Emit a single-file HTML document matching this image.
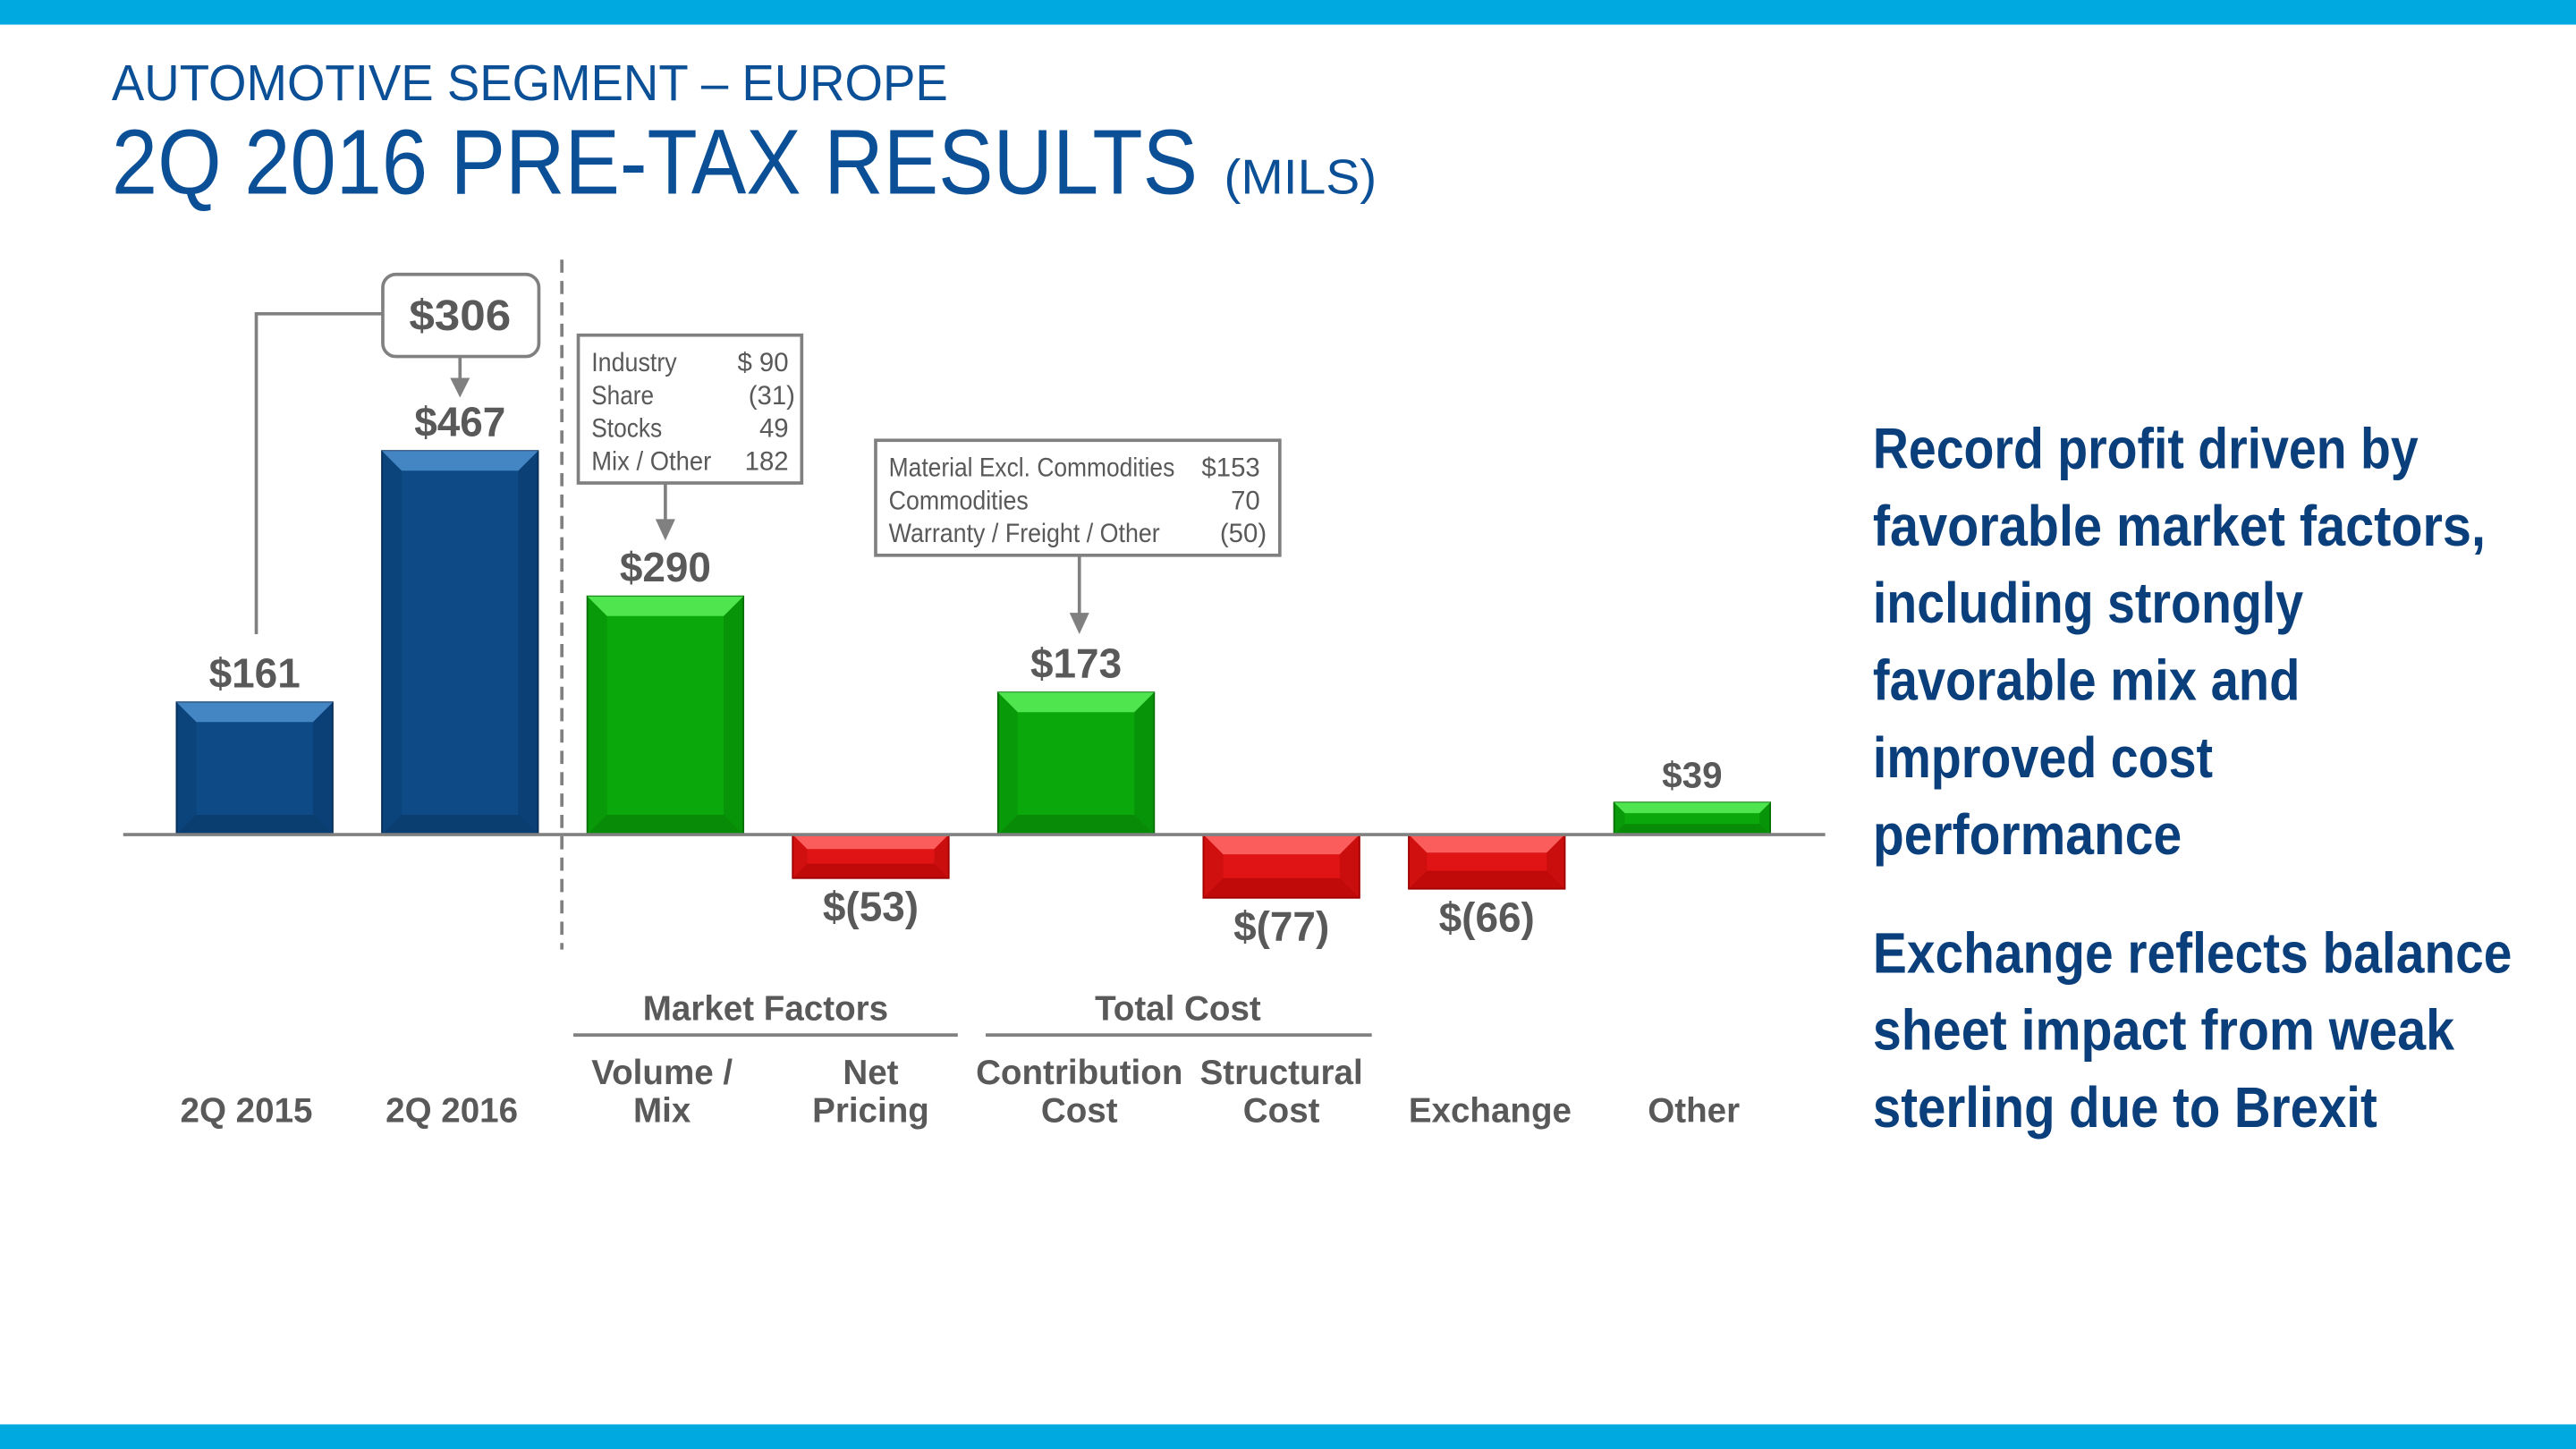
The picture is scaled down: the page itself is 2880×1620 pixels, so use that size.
<!DOCTYPE html>
<html><head><meta charset="utf-8"><style>
html,body{margin:0;padding:0;background:#fff;}
svg{display:block;}
text{font-family:"Liberation Sans Narrow","Liberation Sans",sans-serif;}
</style></head><body>
<svg id="chart" width="2880" height="1620" viewBox="0 0 1568 882" xmlns="http://www.w3.org/2000/svg">
<rect x="0" y="0" width="1568" height="15" fill="#00a9e0"/>
<rect x="0" y="867" width="1568" height="15" fill="#00a9e0"/>
<text x="68" y="61" font-size="31" fill="#0b4f96" textLength="509" lengthAdjust="spacingAndGlyphs">AUTOMOTIVE SEGMENT – EUROPE</text>
<text x="68" y="118" font-size="56" fill="#0b4f96" textLength="661" lengthAdjust="spacingAndGlyphs">2Q 2016 PRE-TAX RESULTS</text>
<text x="745" y="118" font-size="30" fill="#0b4f96" textLength="93" lengthAdjust="spacingAndGlyphs">(MILS)</text>

<line x1="342" y1="158" x2="342" y2="578" stroke="#808080" stroke-width="2" stroke-dasharray="8,5"/>
<g id="bars"></g>
<line x1="75" y1="508" x2="1111" y2="508" stroke="#808080" stroke-width="2"/>

<g>
<polyline points="233,191 156,191 156,386" fill="none" stroke="#808080" stroke-width="2"/>
<rect x="233" y="167" width="95" height="50" rx="8" fill="#fff" stroke="#808080" stroke-width="2"/>
<text x="280" y="201" font-size="26" font-weight="bold" fill="#595959" text-anchor="middle" textLength="62" lengthAdjust="spacingAndGlyphs">$306</text>
<line x1="280" y1="217" x2="280" y2="232" stroke="#808080" stroke-width="2"/>
<polygon points="274,230 286,230 280,242" fill="#808080"/>
</g>

<g font-size="16" fill="#595959">
<rect x="352" y="204" width="136" height="90" fill="#fff" stroke="#808080" stroke-width="2"/>
<text x="360" y="226" textLength="52" lengthAdjust="spacingAndGlyphs">Industry</text><text x="480" y="226" text-anchor="end">$  90</text>
<text x="360" y="246" textLength="38" lengthAdjust="spacingAndGlyphs">Share</text><text x="484" y="246" text-anchor="end">(31)</text>
<text x="360" y="266" textLength="43" lengthAdjust="spacingAndGlyphs">Stocks</text><text x="480" y="266" text-anchor="end">49</text>
<text x="360" y="286" textLength="73" lengthAdjust="spacingAndGlyphs">Mix / Other</text><text x="480" y="286" text-anchor="end">182</text>
<line x1="405" y1="294" x2="405" y2="318" stroke="#808080" stroke-width="2"/>
<polygon points="399,316 411,316 405,329" fill="#808080"/>
</g>

<g font-size="16" fill="#595959">
<rect x="533" y="268" width="246" height="70" fill="#fff" stroke="#808080" stroke-width="2"/>
<text x="541" y="290" textLength="174" lengthAdjust="spacingAndGlyphs">Material Excl. Commodities</text><text x="767" y="290" text-anchor="end">$153</text>
<text x="541" y="310" textLength="85" lengthAdjust="spacingAndGlyphs">Commodities</text><text x="767" y="310" text-anchor="end">70</text>
<text x="541" y="330" textLength="165" lengthAdjust="spacingAndGlyphs">Warranty / Freight / Other</text><text x="771" y="330" text-anchor="end">(50)</text>
<line x1="657" y1="338" x2="657" y2="375" stroke="#808080" stroke-width="2"/>
<polygon points="651,373 663,373 657,386" fill="#808080"/>
</g>

<g font-size="21" font-weight="bold" fill="#595959" text-anchor="middle">
<text x="466" y="621">Market Factors</text>
<line x1="349" y1="630" x2="583" y2="630" stroke="#808080" stroke-width="2"/>
<text x="717" y="621">Total Cost</text>
<line x1="600" y1="630" x2="835" y2="630" stroke="#808080" stroke-width="2"/>
<text x="150" y="683">2Q 2015</text>
<text x="275" y="683">2Q 2016</text>
<text x="403" y="660">Volume /</text>
<text x="403" y="683">Mix</text>
<text x="530" y="660">Net</text>
<text x="530" y="683">Pricing</text>
<text x="657" y="660">Contribution</text>
<text x="657" y="683">Cost</text>
<text x="780" y="660">Structural</text>
<text x="780" y="683">Cost</text>
<text x="907" y="683">Exchange</text>
<text x="1031" y="683">Other</text>
</g>

<g font-size="35" font-weight="bold" fill="#0a3f7c">
<text x="1140" y="285" textLength="332" lengthAdjust="spacingAndGlyphs">Record profit driven by</text>
<text x="1140" y="332" textLength="373" lengthAdjust="spacingAndGlyphs">favorable market factors,</text>
<text x="1140" y="379" textLength="262" lengthAdjust="spacingAndGlyphs">including strongly</text>
<text x="1140" y="426" textLength="260" lengthAdjust="spacingAndGlyphs">favorable mix and</text>
<text x="1140" y="473" textLength="207" lengthAdjust="spacingAndGlyphs">improved cost</text>
<text x="1140" y="520" textLength="188" lengthAdjust="spacingAndGlyphs">performance</text>
<text x="1140" y="592" textLength="389" lengthAdjust="spacingAndGlyphs">Exchange reflects balance</text>
<text x="1140" y="639" textLength="354" lengthAdjust="spacingAndGlyphs">sheet impact from weak</text>
<text x="1140" y="686" textLength="307" lengthAdjust="spacingAndGlyphs">sterling due to Brexit</text>
</g>
</svg>
<script>
const categories = ["2Q 2015","2Q 2016","Volume / Mix","Net Pricing","Contribution Cost","Structural Cost","Exchange","Other"];
const values = [161, 467, 290, -53, 173, -77, -66, 39];
const valueLabels = ["$161","$467","$290","$(53)","$173","$(77)","$(66)","$39"];
const barKinds = ["total","total","delta","delta","delta","delta","delta","delta"];

const NS = "http://www.w3.org/2000/svg";
const y0 = 508, pxPerUnit = 0.5;
function xCenter(i){ return 155 + i * 125; }
function yScale(v){ return y0 - v * pxPerUnit; }
const palette = {
  total: {main:"#0d4a86", light:"#4f8fcf", dark:"#072f5a"},
  up:    {main:"#0aa80a", light:"#5cf05c", dark:"#067006"},
  down:  {main:"#e01414", light:"#ff6a6a", dark:"#a00000"}
};
const g = document.getElementById("bars");
function mk(tag, attrs){ const e = document.createElementNS(NS, tag); for (const k in attrs) e.setAttribute(k, attrs[k]); return e; }
values.forEach((v, i) => {
  const w = 95, cx = xCenter(i), x = cx - w/2;
  const top = Math.min(yScale(v), y0), bot = Math.max(yScale(v), y0), h = bot - top;
  const c = barKinds[i] === "total" ? palette.total : (v >= 0 ? palette.up : palette.down);
  const grp = mk("g", {});
  
  
  grp.appendChild(mk("rect", {x:x, y:top, width:w, height:h, fill:c.main, stroke:c.dark, "stroke-width":1}));
  const b = Math.min(12, h/3);
  grp.appendChild(mk("polygon", {points:`${x},${top} ${x+w},${top} ${x+w-b},${top+b} ${x+b},${top+b}`, fill:c.light, opacity:0.85}));
  grp.appendChild(mk("polygon", {points:`${x},${bot} ${x+w},${bot} ${x+w-b},${bot-b} ${x+b},${bot-b}`, fill:c.dark, opacity:0.5}));
  grp.appendChild(mk("polygon", {points:`${x},${top} ${x+b},${top+b} ${x+b},${bot-b} ${x},${bot}`, fill:c.dark, opacity:0.25}));
  grp.appendChild(mk("polygon", {points:`${x+w},${top} ${x+w-b},${top+b} ${x+w-b},${bot-b} ${x+w},${bot}`, fill:c.dark, opacity:0.35}));
  g.appendChild(grp);
  const t = mk("text", {x:cx, y: v >= 0 ? top - 9 : bot + 26, "text-anchor":"middle", "font-size": (i === 7 ? 22 : 25), "font-weight":"bold", fill:"#595959"});
  
  
  t.textContent = valueLabels[i];
  g.appendChild(t);
});
</script>
</body></html>
